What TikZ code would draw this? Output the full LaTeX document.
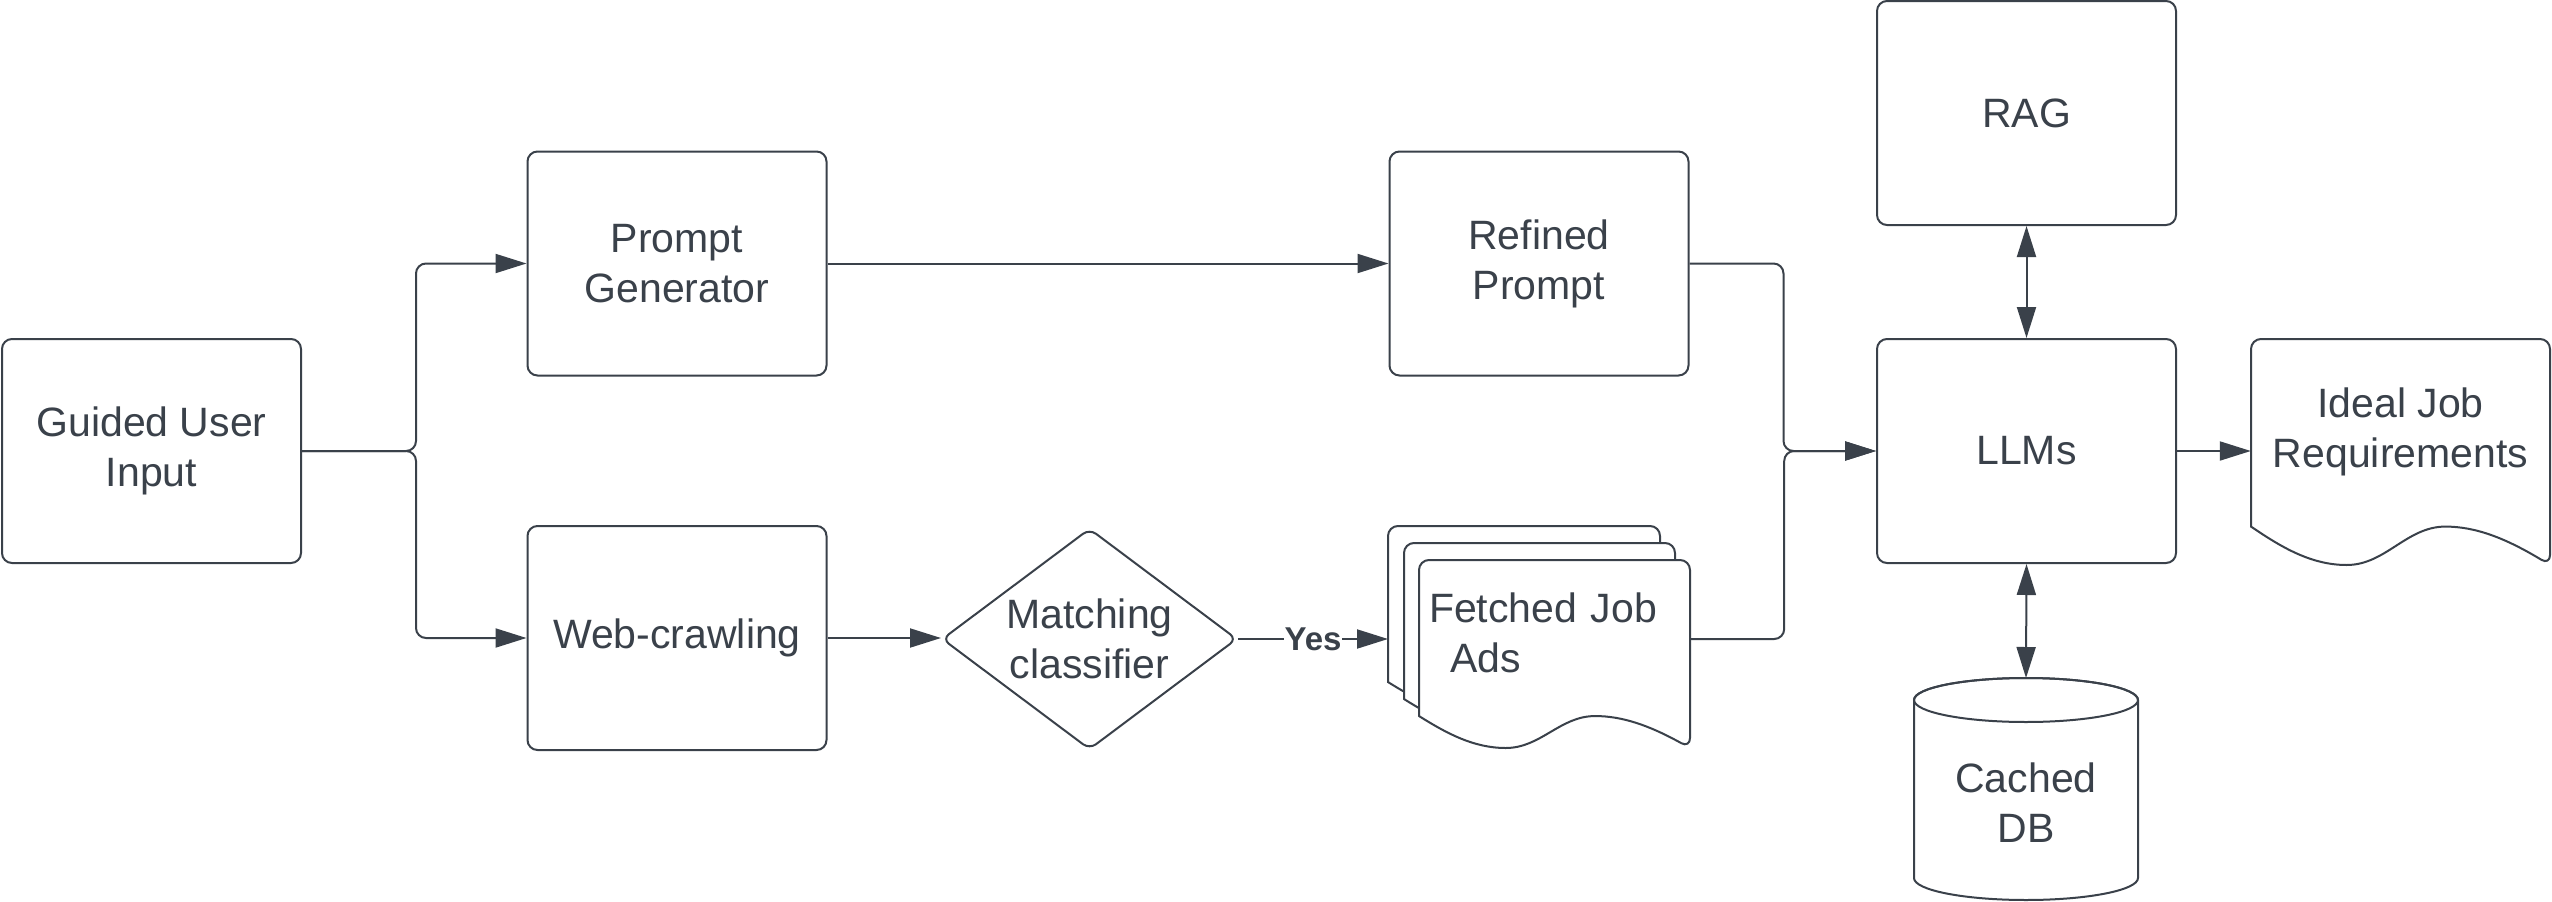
\documentclass[tikz,border=0pt]{standalone}
\usepackage{fontspec}
\setmainfont{Liberation Sans}
\usetikzlibrary{arrows.meta,shapes.geometric,calc}
\definecolor{ink}{HTML}{3A414A}
\newcommand\lucdoc[4]{%
  \path[shapeline, rounded corners=10pt] (#1,{#2+0.83*#4}) -- (#1,#2) -- ({#1+#3},#2) -- ({#1+#3},{#2+#4}) [sharp corners]
    .. controls ({#1+0.85*#3},{#2+0.88*#4}) and ({#1+0.75*#3},{#2+0.83*#4}) .. ({#1+0.65*#3},{#2+0.83*#4})
    .. controls ({#1+0.52*#3},{#2+0.83*#4}) and ({#1+0.45*#3},{#2+#4}) .. ({#1+0.32*#3},{#2+#4})
    .. controls ({#1+0.2*#3},{#2+#4}) and ({#1+0.1*#3},{#2+0.92*#4}) .. (#1,{#2+0.83*#4}) -- cycle;}
\begin{document}
\begin{tikzpicture}[x=1pt,y=-1pt,
  every node/.style={font=\fontsize{41}{50}\selectfont, text=ink},
  box/.style={draw=ink, line width=2pt, rounded corners=10pt, fill=white, minimum width=299pt, minimum height=224pt, align=center, inner sep=0pt},
  conn/.style={draw=ink, line width=2pt, -{Triangle[length=31pt,width=19pt]}, rounded corners=10pt},
  biconn/.style={draw=ink, line width=2pt, {Triangle[length=31pt,width=19pt]}-{Triangle[length=31pt,width=19pt]}},
  shapeline/.style={draw=ink, line width=2pt, fill=white},
  ghost/.style={draw=none, inner sep=0pt}
]
\useasboundingbox (0,0) rectangle (2552,902);

% boxes
\node[box] (guided) at (151.5,451) {Guided User\\Input};
\node[box] (pgen) at (677,263.5) {Prompt\\Generator};
\node[box] (web) at (677,638) {Web-crawling};
\node[diamond, draw=ink, line width=2pt, rounded corners=8pt, fill=white, minimum width=295pt, minimum height=221pt, inner sep=0pt, aspect=1.34, align=center] (match) at (1089.5,639) {Matching\\classifier};
\node[box] (refined) at (1539,263.5) {Refined\\Prompt};
\node[box] (rag) at (2026.5,113) {RAG};
\node[box] (llm) at (2026.5,451) {LLMs};

% document stack
\lucdoc{1388}{526}{272}{188}
\lucdoc{1404}{543}{271}{188}
\lucdoc{1419}{560}{271}{188}
\node[ghost, minimum width=271pt, minimum height=158pt, text width=251pt, align=left] (fetched) at (1554.5,633) {Fetched Job\\\hspace*{21pt}Ads};
\coordinate (fetchin) at (1388,639);

% ideal job requirements document
\lucdoc{2251}{339}{299}{226}
\node[ghost, minimum width=299pt, align=center] (ideal) at (2400.5,432) {Ideal Job\\Requirements};

% cylinder
\path[shapeline] (1914,700) -- (1914,878) arc[start angle=180,end angle=360,x radius=112pt,y radius=22pt] -- (2138,700) arc[start angle=0,end angle=180,x radius=112pt,y radius=22pt] -- cycle;
\path[draw=ink, line width=2pt] (2026,700) ellipse [x radius=112pt, y radius=22pt];
\node[ghost, align=center] (db) at (2026,803) {Cached\\DB};
\coordinate (dbtop) at (2026,678);

% connectors
\draw[conn] (guided.east) -- ++(114,0) |- (pgen.west);
\draw[conn] (guided.east) -- ++(114,0) |- (web.west);
\draw[conn] (pgen.east) -- (refined.west);
\draw[conn] (web.east) -- (web.east -| match.west);
\draw[conn] (match.east) -- node[fill=white, inner sep=0.5pt, font=\bfseries\fontsize{33}{38}\selectfont]{Yes} (fetchin);
\draw[conn] (refined.east) -- ++(94,0) |- (llm.west);
\draw[conn] (fetched.east |- fetchin) -- ++(94,0) |- (llm.west);
\draw[biconn] (rag.south) -- (llm.north);
\draw[biconn] (llm.south) -- (dbtop);
\draw[conn] (llm.east) -- (llm.east -| ideal.west);
\end{tikzpicture}
\end{document}
